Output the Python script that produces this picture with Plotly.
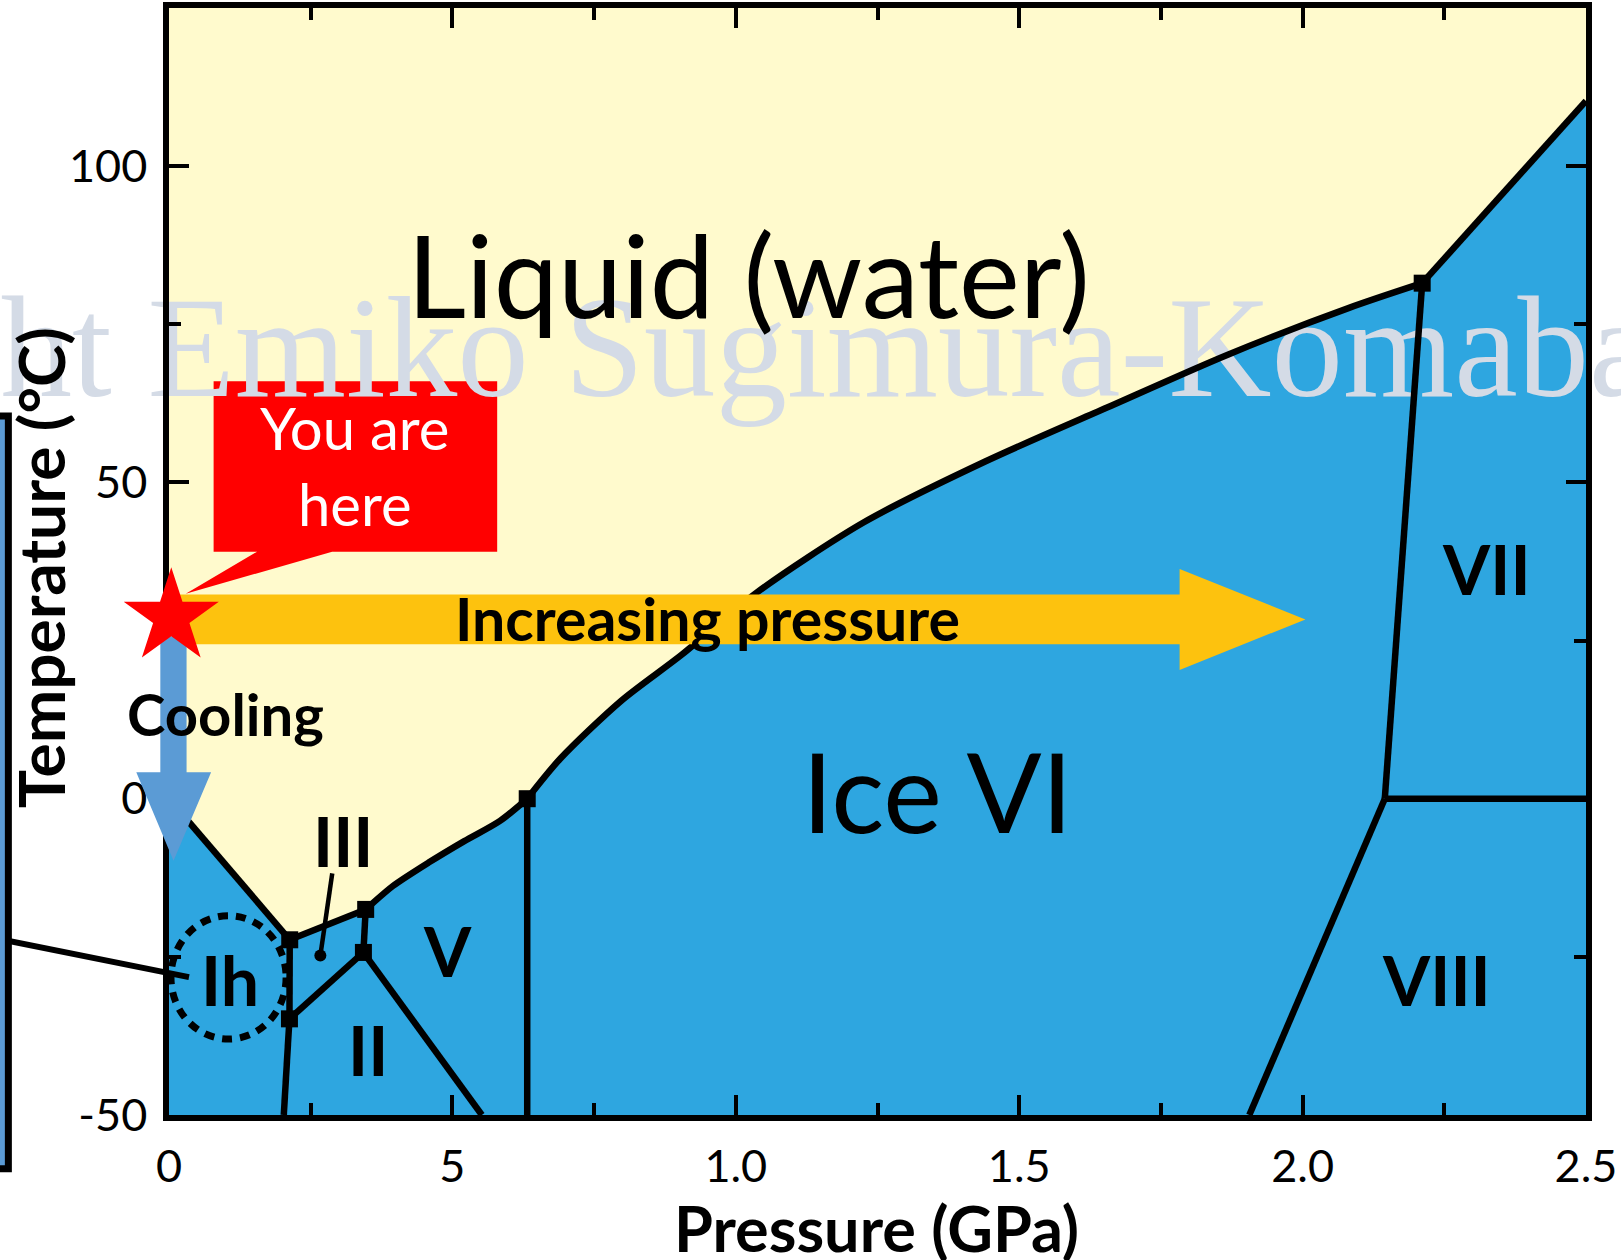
import math
import plotly.graph_objects as go

# ---------------- data (P in GPa, T in deg C) ----------------
P_RANGE = [0.0, 2.5]
T_RANGE = [-50.0, 125.0]
X_TICK_VALS = [0, 0.5, 1.0, 1.5, 2.0, 2.5]
X_TICK_TEXT = ["0", "5", "1.0", "1.5", "2.0", "2.5"]
Y_TICK_VALS = [-50, 0, 50, 100]
Y_TICK_TEXT = ["-50", "0", "50", "100"]

# melting curve (ice / liquid boundary)
IH_MELT_P = [0.0, 0.213]
IH_MELT_T = [0.0, -22.3]
III_MELT_P = [0.213, 0.347]
III_MELT_T = [-22.3, -17.5]
V_MELT_P = [0.347, 0.357, 0.395, 0.458, 0.521, 0.584, 0.632]
V_MELT_T = [-17.5, -16.7, -13.8, -10.1, -6.7, -3.5, 0.0]
VI_MELT_P = [0.632, 0.691, 0.798, 0.905, 1.034, 1.226, 1.440, 1.654, 1.868, 2.082, 2.211]
VI_MELT_T = [0.0, 6.4, 15.5, 22.8, 32.4, 43.7, 53.3, 61.8, 70.2, 77.6, 81.5]
VII_MELT_P = [2.211, 2.5]
VII_MELT_T = [81.5, 110.3]

# solid-solid boundaries
IH_III_P = [0.213, 0.2125]
IH_III_T = [-22.3, -34.8]
IH_II_P = [0.2125, 0.2025]
IH_II_T = [-34.8, -50.0]
II_III_P = [0.2125, 0.343]
II_III_T = [-34.8, -24.3]
III_V_P = [0.343, 0.347]
III_V_T = [-24.3, -17.5]
II_V_P = [0.343, 0.552]
II_V_T = [-24.3, -50.0]
V_VI_P = [0.632, 0.632]
V_VI_T = [0.0, -50.0]
VI_VII_P = [2.211, 2.145]
VI_VII_T = [81.5, 0.0]
VII_VIII_P = [2.145, 2.5]
VII_VIII_T = [0.0, 0.0]
VI_VIII_P = [2.145, 1.906]
VI_VIII_T = [0.0, -50.0]

# triple points
TRIPLE_P = [0.213, 0.347, 0.632, 2.211, 0.2125, 0.343]
TRIPLE_T = [-22.3, -17.5, 0.0, 81.5, -34.8, -24.3]

# pointer to the ice III region
III_PTR_P = [0.288, 0.267]
III_PTR_T = [-11.8, -24.8]

# region labels
REGION_TEXT = ["Ih", "II", "III", "V", "VII", "VIII"]
REGION_P = [0.108, 0.351, 0.307, 0.491, 2.324, 2.236]
REGION_T = [-29.0, -40.0, -7.0, -24.4, 36.0, -29.0]

# "you are here" point and the two process arrows
STAR_P, STAR_T = 0.004, 28.7
PRESS_ARROW_P = [0.007, 1.783, 2.005]      # start, head start, tip
PRESS_ARROW_T = [24.4, 32.3, 20.35, 36.3]  # body low/high, head low/high
COOL_ARROW_P = [-0.0153, 0.031, -0.0577, 0.0743, 0.008]  # body l/r, head l/r, tip
COOL_ARROW_T = [25.7, 4.2, -9.8]                         # body top, head top, tip
CALLOUT_P = [0.0787, 0.579, 0.1554, 0.2878, 0.0295]      # box l/r, ptr base l/r, tip
CALLOUT_T = [39.05, 66.0, 32.4]                           # box bottom/top, tip
IH_CIRCLE_P = [0.0035, 0.2066]
IH_CIRCLE_T = [-38.0, -18.5]
IH_PTR_P = [-0.298, 0.0353]
IH_PTR_T = [-22.2, -28.2]
INSET_P = [-0.32, -0.2834]
INSET_T = [-58.5, 60.5]

# ---------------- layout geometry ----------------
W, H = 1621, 1260
ML, MR, MT, MB = 169, 35, 8, 145
PW, PH = W - ML - MR, H - MT - MB

ICE = "#2EA6E0"
LIQ = "#FFFACD"
FONT = "Lato"


def dx(p):
    return (p - P_RANGE[0]) / (P_RANGE[1] - P_RANGE[0])


def dy(t):
    return (t - T_RANGE[0]) / (T_RANGE[1] - T_RANGE[0])


def lift(t, size, k=0.035):
    # small upward nudge so the cap height (not the line box) is centred on t
    return t + k * size * (T_RANGE[1] - T_RANGE[0]) / PH


def segs(*pairs):
    xs, ys = [], []
    for px, py in pairs:
        xs += list(px) + [None]
        ys += list(py) + [None]
    return xs, ys


fig = go.Figure()

# ice region (everything below the melting curve)
ice_p = [P_RANGE[0]] + IH_MELT_P + III_MELT_P[1:] + V_MELT_P[1:] + VI_MELT_P[1:] + VII_MELT_P[1:] + [P_RANGE[1], P_RANGE[0]]
ice_t = [T_RANGE[0]] + IH_MELT_T + III_MELT_T[1:] + V_MELT_T[1:] + VI_MELT_T[1:] + VII_MELT_T[1:] + [T_RANGE[0], T_RANGE[0]]
fig.add_trace(go.Scatter(x=ice_p, y=ice_t, fill="toself", fillcolor=ICE, mode="lines",
                         line=dict(width=0, color=ICE), hoverinfo="skip", showlegend=False))

# watermark
fig.add_trace(go.Scatter(x=[1.16], y=[69.3], mode="text", text=["ht Emiko Sugimura-Komaba"],
                         textposition="middle center", cliponaxis=False,
                         textfont=dict(family="Liberation Serif", size=143, color="#D4DBE6"),
                         hoverinfo="skip", showlegend=False))

# boundaries
bx, by = segs((IH_MELT_P, IH_MELT_T), (III_MELT_P, III_MELT_T), (V_MELT_P, V_MELT_T),
              (VI_MELT_P, VI_MELT_T), (VII_MELT_P, VII_MELT_T), (IH_III_P, IH_III_T),
              (IH_II_P, IH_II_T), (II_III_P, II_III_T), (III_V_P, III_V_T), (II_V_P, II_V_T),
              (V_VI_P, V_VI_T), (VI_VII_P, VI_VII_T), (VII_VIII_P, VII_VIII_T), (VI_VIII_P, VI_VIII_T))
fig.add_trace(go.Scatter(x=bx, y=by, mode="lines",
                         line=dict(color="black", width=6.5, shape="spline", smoothing=0.8),
                         connectgaps=False, hoverinfo="skip", showlegend=False))
fig.add_trace(go.Scatter(x=TRIPLE_P, y=TRIPLE_T, mode="markers",
                         marker=dict(symbol="square", size=17, color="black"),
                         hoverinfo="skip", showlegend=False))
fig.add_trace(go.Scatter(x=III_PTR_P, y=III_PTR_T, mode="lines", line=dict(color="black", width=4.5),
                         hoverinfo="skip", showlegend=False))
fig.add_trace(go.Scatter(x=[III_PTR_P[1]], y=[III_PTR_T[1]], mode="markers",
                         marker=dict(symbol="circle", size=12, color="black"),
                         hoverinfo="skip", showlegend=False))

shapes = []
# callout box
cp, ct = CALLOUT_P, CALLOUT_T
shapes.append(dict(type="path", xref="x", yref="y", layer="below", fillcolor="#FF0000",
                   line=dict(width=0),
                   path=(f"M{cp[0]},{ct[1]} L{cp[1]},{ct[1]} L{cp[1]},{ct[0]} L{cp[3]},{ct[0]} "
                         f"L{cp[4]},{ct[2]} L{cp[2]},{ct[0]} L{cp[0]},{ct[0]} Z")))
# pressure arrow
ap, at = PRESS_ARROW_P, PRESS_ARROW_T
tip_t = (at[0] + at[1]) / 2
shapes.append(dict(type="path", xref="x domain", yref="y domain", layer="above", fillcolor="#FDC20E",
                   line=dict(width=0),
                   path=(f"M{dx(ap[0])},{dy(at[0])} L{dx(ap[1])},{dy(at[0])} L{dx(ap[1])},{dy(at[2])} "
                         f"L{dx(ap[2])},{dy(tip_t)} L{dx(ap[1])},{dy(at[3])} L{dx(ap[1])},{dy(at[1])} "
                         f"L{dx(ap[0])},{dy(at[1])} Z")))
# cooling arrow
c, ctt = COOL_ARROW_P, COOL_ARROW_T
shapes.append(dict(type="path", xref="x domain", yref="y domain", layer="above", fillcolor="#5B9BD5",
                   line=dict(width=0),
                   path=(f"M{dx(c[0])},{dy(ctt[0])} L{dx(c[1])},{dy(ctt[0])} L{dx(c[1])},{dy(ctt[1])} "
                         f"L{dx(c[3])},{dy(ctt[1])} L{dx(c[4])},{dy(ctt[2])} L{dx(c[2])},{dy(ctt[1])} "
                         f"L{dx(c[0])},{dy(ctt[1])} Z")))
# dotted circle around Ih
shapes.append(dict(type="circle", xref="x", yref="y", layer="above",
                   x0=IH_CIRCLE_P[0], x1=IH_CIRCLE_P[1], y0=IH_CIRCLE_T[0], y1=IH_CIRCLE_T[1],
                   line=dict(color="black", width=7, dash="10px,8px")))
# pointer from Ih to the (cropped) inset
shapes.append(dict(type="line", xref="x domain", yref="y domain", layer="above",
                   x0=dx(IH_PTR_P[0]), y0=dy(IH_PTR_T[0]), x1=dx(IH_PTR_P[1]), y1=dy(IH_PTR_T[1]),
                   line=dict(color="black", width=6)))
# cropped inset box at the left edge
shapes.append(dict(type="rect", xref="x domain", yref="y domain", layer="above",
                   x0=dx(INSET_P[0]), x1=dx(INSET_P[1]), y0=dy(INSET_T[0]), y1=dy(INSET_T[1]),
                   fillcolor="#5B9BD5", line=dict(color="black", width=7)))
# red star
R_OUT, R_IN = 50.0, 19.1
pts = []
for k in range(10):
    a = math.radians(90 + 36 * k)
    r = R_OUT if k % 2 == 0 else R_IN
    pts.append((dx(STAR_P) + r * math.cos(a) / PW, dy(STAR_T) + r * math.sin(a) / PH))
star_path = "M" + " L".join(f"{x},{y}" for x, y in pts) + " Z"
shapes.append(dict(type="path", xref="x domain", yref="y domain", layer="above",
                   fillcolor="#FF0000", line=dict(width=0), path=star_path))

ann = []


def add_label(p, t, text, size, color="black"):
    ann.append(dict(x=p, y=lift(t, size), xref="x", yref="y", text=text, showarrow=False,
                    xanchor="center", yanchor="middle",
                    font=dict(family=FONT, size=size, color=color)))


add_label(1.022, 82.55, "Liquid (water)", 115)
add_label(1.355, 0.7, "Ice VI", 111)
for t, p, tt in zip(REGION_TEXT, REGION_P, REGION_T):
    add_label(p, tt, f"<b>{t}</b>", 68)
add_label(0.0989, 13.2, "<b>Cooling</b>", 58)
add_label(0.950, 28.1, "<b>Increasing pressure</b>", 59)
add_label(0.3275, 58.3, "You are", 58, "white")
add_label(0.3275, 46.4, "here", 58, "white")

ann.append(dict(xref="paper", yref="paper", x=0.4993, y=-0.1015, text="<b>Pressure (GPa)</b>",
                showarrow=False, xanchor="center", yanchor="middle",
                font=dict(family=FONT, size=63, color="black")))
ann.append(dict(xref="paper", yref="paper", x=-0.091, y=0.494, text="<b>Temperature (°C)</b>",
                textangle=-90, showarrow=False, xanchor="center", yanchor="middle",
                font=dict(family=FONT, size=64, color="black")))

axis_common = dict(showline=True, linewidth=5.5, linecolor="black", mirror="ticks",
                   ticks="inside", ticklen=20, tickwidth=4, tickcolor="black",
                   showgrid=False, zeroline=False, fixedrange=True, automargin=False,
                   tickfont=dict(family=FONT, size=45, color="black"))

fig.update_layout(
    width=W, height=H, margin=dict(l=ML, r=MR, t=MT, b=MB),
    paper_bgcolor="white", plot_bgcolor=LIQ, showlegend=False,
    shapes=shapes, annotations=ann,
    xaxis=dict(range=P_RANGE, tickmode="array", tickvals=X_TICK_VALS, ticktext=X_TICK_TEXT,
               ticklabelstandoff=7,
               minor=dict(ticks="inside", ticklen=12, tickwidth=4, tickcolor="black", dtick=0.25, tick0=0, showgrid=False),
               **axis_common),
    yaxis=dict(range=T_RANGE, tickmode="array", tickvals=Y_TICK_VALS, ticktext=Y_TICK_TEXT,
               ticklabelstandoff=7,
               minor=dict(ticks="inside", ticklen=12, tickwidth=4, tickcolor="black", dtick=25, tick0=0, showgrid=False),
               **axis_common),
)

fig.write_html("out.html", config={"displayModeBar": False},
               post_script="document.body.style.margin='0px';document.body.style.overflow='hidden';")
